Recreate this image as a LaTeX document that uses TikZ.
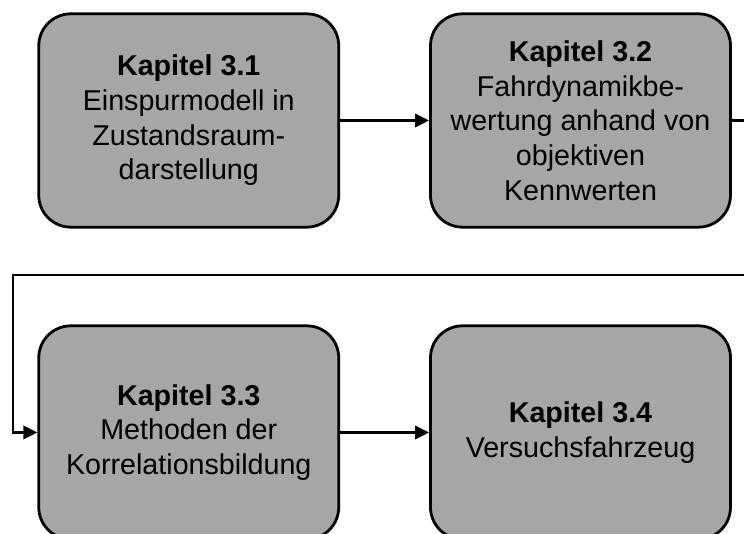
\documentclass[tikz,border=0pt]{standalone}
\usepackage{fontspec}
\setmainfont{Liberation Sans}
\usetikzlibrary{arrows.meta}
\definecolor{boxgray}{RGB}{166,166,166}
\begin{document}
\begin{tikzpicture}[x=0.75pt,y=-0.75pt,
  chapter/.style={draw=black, line width=2.1pt, fill=boxgray,
    rounded corners=24pt, minimum width=225pt, minimum height=160pt,
    align=center, inner sep=0pt,
    font=\fontsize{21.5}{26}\selectfont},
  flow/.style={line width=1.8pt, -{Triangle[length=10.5pt,width=10pt]}}]
% page frame; the feedback line leaves it on the right
\clip (0,0) rectangle (744,534);

\node[chapter] (k31) at (188.75,120.5)
  {\textbf{Kapitel 3.1}\\Einspurmodell in\\Zustandsraum-\\darstellung};
\node[chapter] (k32) at (580.5,120.5)
  {\textbf{Kapitel 3.2}\\Fahrdynamikbe-\\wertung anhand von\\objektiven\\Kennwerten};
\node[chapter] (k33) at (188.75,432.5)
  {\textbf{Kapitel 3.3}\\Methoden der\\Korrelationsbildung};
\node[chapter] (k34) at (580.5,432.5)
  {\textbf{Kapitel 3.4}\\Versuchsfahrzeug};

% turning points of the line from 3.2 back to 3.3
\coordinate (turn) at (760,275);
\coordinate (back) at (13,275);

\draw[flow] (k31) -- (k32);
\draw[flow] (k32.east) -- (k32.east -| turn) -- (turn) -- (back) |- (k33.west);
\draw[flow] (k33) -- (k34);
\end{tikzpicture}
\end{document}
